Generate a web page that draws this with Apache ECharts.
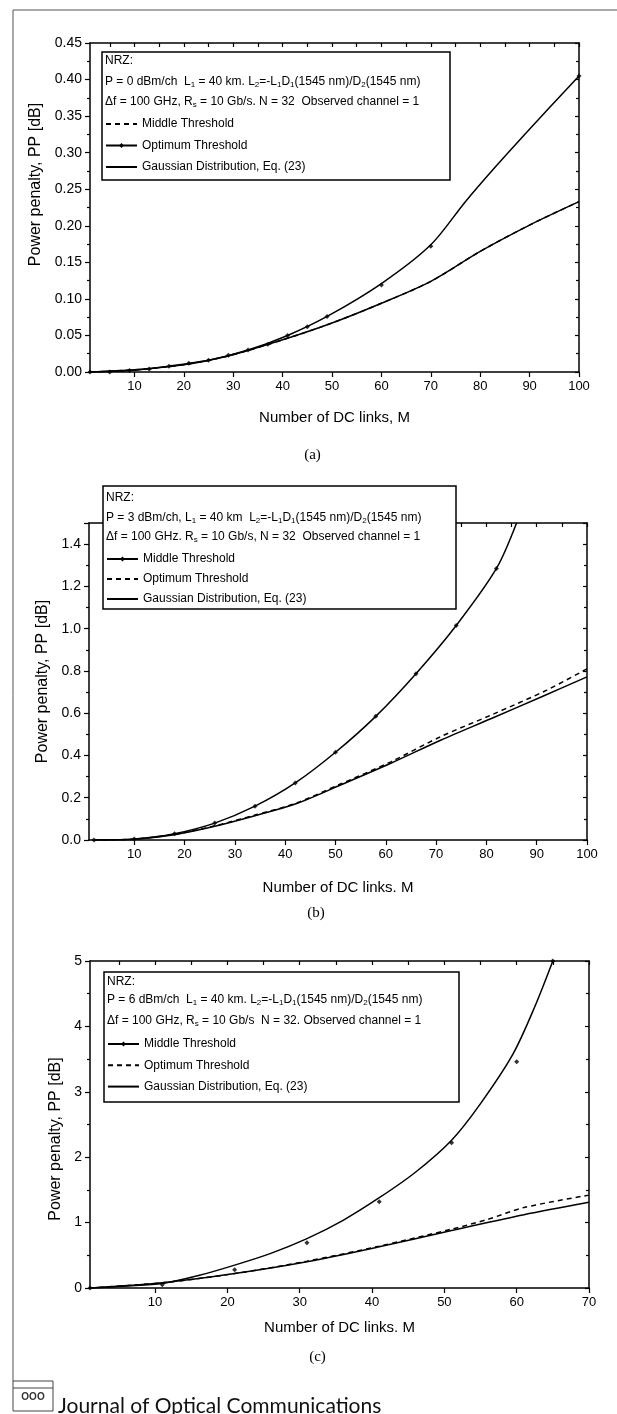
<!DOCTYPE html>
<html>
<head>
<meta charset="utf-8">
<script src="https://cdn.jsdelivr.net/npm/echarts@6/dist/echarts.min.js"></script>
<style>
html, body { margin: 0; padding: 0; background: #fff; }
#chart { width: 617px; height: 1414px; }
</style>
</head>
<body>
<div id="chart"></div>
<script>
// (a) P = 0 dBm/ch
var aOptX = [1, 9, 17, 25, 33, 41, 49, 60, 70, 77, 83, 89, 100];
var aOptY = [0, 0.002, 0.008, 0.016, 0.03, 0.05, 0.076, 0.121, 0.174, 0.233, 0.28, 0.325, 0.405];
var aMarkX = [1, 5, 9, 13, 17, 21, 25, 29, 33, 37, 41, 45, 49, 60, 70, 100];
var aMarkY = [0, 0, 0.002, 0.004, 0.008, 0.012, 0.016, 0.023, 0.03, 0.038, 0.05, 0.062, 0.076, 0.119, 0.172, 0.405];
var aGaussX = [1, 10, 20, 29, 40, 50, 60, 70, 80, 90, 100];
var aGaussY = [0, 0.003, 0.01, 0.022, 0.044, 0.067, 0.094, 0.124, 0.165, 0.201, 0.233];
// middle threshold curve in (a) is not visible, it lies under the gaussian one
var aMidX = aGaussX;
var aMidY = aGaussY;

// (b) P = 3 dBm/ch
var bMidX = [2, 10, 18, 26, 34, 42, 50, 58, 66, 74, 82, 86];
var bMidY = [0, 0.005, 0.03, 0.08, 0.16, 0.27, 0.415, 0.585, 0.787, 1.015, 1.285, 1.5];
var bMarkX = [2, 10, 18, 26, 34, 42, 50, 58, 66, 74, 82];
var bMarkY = [0, 0.005, 0.03, 0.08, 0.16, 0.27, 0.415, 0.585, 0.787, 1.015, 1.285];
var bOptX = [2, 10, 18, 26, 34, 42, 51, 61, 71, 81, 92, 100];
var bOptY = [0, 0.004, 0.027, 0.067, 0.118, 0.173, 0.265, 0.37, 0.49, 0.592, 0.709, 0.81];
var bGaussX = [2, 10, 18, 26, 34, 42, 51, 61, 71, 81, 91, 100];
var bGaussY = [0, 0.004, 0.025, 0.065, 0.115, 0.17, 0.26, 0.363, 0.473, 0.575, 0.678, 0.772];

// (c) P = 6 dBm/ch
var cMidX = [1, 6, 11, 16, 21, 26, 31, 36, 41, 46, 51, 55, 59.5, 62.5, 65];
var cMidY = [0, 0.03, 0.07, 0.19, 0.35, 0.53, 0.755, 1.035, 1.38, 1.77, 2.26, 2.82, 3.58, 4.3, 5.0];
var cMarkX = [1, 11, 21, 31, 41, 51, 60, 65];
var cMarkY = [0, 0.05, 0.28, 0.69, 1.32, 2.22, 3.46, 5.0];
var cOptX = [1, 11, 21, 31, 41, 51, 56, 61, 70];
var cOptY = [0, 0.08, 0.22, 0.41, 0.64, 0.9, 1.05, 1.23, 1.42];
var cGaussX = [1, 11, 21, 31, 41, 51, 61, 70];
var cGaussY = [0, 0.08, 0.22, 0.4, 0.63, 0.88, 1.12, 1.31];

var ticks100 = [10, 20, 30, 40, 50, 60, 70, 80, 90, 100];
var ticks70 = [10, 20, 30, 40, 50, 60, 70];
var minor100 = [5, 10, 15, 20, 25, 30, 35, 40, 45, 50, 55, 60, 65, 70, 75, 80, 85, 90, 95, 100];
var minor70 = [5, 10, 15, 20, 25, 30, 35, 40, 45, 50, 55, 60, 65, 70];

var MID = 'Middle Threshold', OPT = 'Optimum Threshold', GAU = 'Gaussian Distribution, Eq. (23)';
var FONT = 'Liberation Sans, Arial, sans-serif';

function pairs(xs, ys) {
    return xs.map(function (x, i) { return [x, ys[i]]; });
}

var panels = [
    {
        grid: { left: 90, top: 43, width: 489, height: 329 },
        xMax: 100, xTicks: ticks100, xMinor: minor100, xNameGap: 38,
        yMax: 0.45, yStep: 0.05, digits: 2, yNameGap: 44, yNamePad: [0, 0, 0, 46],
        suffix: '', tag: '(a)', tagY: 455,
        box: [102, 52, 348, 128], head: [61, 82, 102], legTop: 117, legGap: 7.5,
        p: 'P = 0 dBm/ch  L{s|1} = 40 km. L{s|2}=-L{s|1}D{s|1}(1545 nm)/D{s|2}(1545 nm)',
        df: '\u0394f = 100 GHz, R{s|s} = 10 Gb/s. N = 32  Observed channel = 1',
        order: [MID, OPT, GAU],
        series: [
            { name: MID, data: pairs(aMidX, aMidY), dashed: true, z: 2 },
            { name: OPT, data: pairs(aOptX, aOptY), mark: pairs(aMarkX, aMarkY), z: 3 },
            { name: GAU, data: pairs(aGaussX, aGaussY), z: 3 }
        ]
    },
    {
        grid: { left: 89, top: 523, width: 498, height: 317 },
        xMax: 100, xTicks: ticks100, xMinor: minor100, xNameGap: 40,
        yMax: 1.5, yStep: 0.2, digits: 1, yNameGap: 36, yNamePad: [0, 0, 0, 0],
        suffix: ' ', tag: '(b)', tagY: 913,
        box: [103, 486, 353, 123], head: [498, 518, 537], legTop: 552, legGap: 6,
        p: 'P = 3 dBm/ch, L{s|1} = 40 km  L{s|2}=-L{s|1}D{s|1}(1545 nm)/D{s|2}(1545 nm)',
        df: '\u0394f = 100 GHz. R{s|s} = 10 Gb/s, N = 32  Observed channel = 1',
        order: [MID, OPT, GAU],
        series: [
            { name: MID, data: pairs(bMidX, bMidY), mark: pairs(bMarkX, bMarkY), z: 3 },
            { name: OPT, data: pairs(bOptX, bOptY), dashed: true, z: 2 },
            { name: GAU, data: pairs(bGaussX, bGaussY), z: 3 }
        ]
    },
    {
        grid: { left: 90, top: 961, width: 499, height: 327 },
        xMax: 70, xTicks: ticks70, xMinor: minor70, xNameGap: 32,
        yMax: 5, yStep: 1, digits: 0, yNameGap: 22, yNamePad: [0, 29, 0, 0],
        suffix: '  ', tag: '(c)', tagY: 1357,
        box: [104, 972, 355, 130], head: [982, 1000, 1021], legTop: 1037, legGap: 7.3,
        p: 'P = 6 dBm/ch  L{s|1} = 40 km. L{s|2}=-L{s|1}D{s|1}(1545 nm)/D{s|2}(1545 nm)',
        df: '\u0394f = 100 GHz, R{s|s} = 10 Gb/s  N = 32. Observed channel = 1',
        order: [MID, OPT, GAU],
        series: [
            { name: MID, data: pairs(cMidX, cMidY), mark: pairs(cMarkX, cMarkY), z: 3 },
            { name: OPT, data: pairs(cOptX, cOptY), dashed: true, z: 2 },
            { name: GAU, data: pairs(cGaussX, cGaussY), z: 3 }
        ]
    }
];

var axisLine = { color: '#000', width: 1.5 };
var tickLine = { color: '#000', width: 1.2 };
var grid = [], xAxis = [], yAxis = [], series = [], legend = [], graphic = [];

panels.forEach(function (p, i) {
    grid.push(p.grid);
    xAxis.push({
        type: 'value', gridIndex: i, min: 1, max: p.xMax, position: 'bottom',
        axisLine: { onZero: false, lineStyle: axisLine },
        axisTick: { inside: false, length: 5, customValues: p.xTicks, lineStyle: tickLine },
        axisLabel: { customValues: p.xTicks, margin: 8, fontSize: 13, color: '#000', fontFamily: FONT },
        splitLine: { show: false },
        name: 'Number of DC links' + (i === 0 ? ', M' : '. M'), nameLocation: 'middle', nameGap: p.xNameGap,
        nameTextStyle: { fontSize: 15, color: '#000', fontFamily: FONT }
    });
    xAxis.push({
        type: 'value', gridIndex: i, min: 1, max: p.xMax, position: 'top',
        axisLine: { onZero: false, lineStyle: axisLine },
        axisTick: { inside: true, length: 4, customValues: p.xMinor, lineStyle: tickLine },
        axisLabel: { show: false }, splitLine: { show: false }
    });
    yAxis.push({
        type: 'value', gridIndex: i, min: 0, max: p.yMax, interval: p.yStep, position: 'left',
        axisLine: { show: true, onZero: false, lineStyle: axisLine },
        axisTick: { show: true, inside: false, length: 5, lineStyle: tickLine },
        minorTick: { show: true, splitNumber: 2, length: 3, lineStyle: tickLine },
        axisLabel: {
            margin: 8, fontSize: 14, color: '#000', fontFamily: FONT, showMaxLabel: i !== 1,
            formatter: (function (d) { return function (v) { return v.toFixed(d); }; })(p.digits)
        },
        splitLine: { show: false }, minorSplitLine: { show: false },
        name: 'Power penalty, PP [dB]', nameLocation: 'middle', nameGap: p.yNameGap, nameRotate: 90,
        nameTextStyle: { fontSize: 16, color: '#000', fontFamily: FONT, padding: p.yNamePad }
    });
    yAxis.push({
        type: 'value', gridIndex: i, min: 0, max: p.yMax, interval: p.yStep, position: 'right',
        axisLine: { show: true, onZero: false, lineStyle: axisLine },
        axisTick: { show: true, inside: true, length: 4, lineStyle: tickLine },
        minorTick: { show: true, splitNumber: 2, length: 3, lineStyle: tickLine },
        axisLabel: { show: false }, splitLine: { show: false }, minorSplitLine: { show: false }
    });

    p.series.forEach(function (s) {
        series.push({
            type: 'line', name: s.name + p.suffix,
            xAxisIndex: 2 * i, yAxisIndex: 2 * i,
            data: s.data, smooth: 0.3,
            symbol: s.mark ? 'diamond' : 'none', showSymbol: false,
            lineStyle: { color: '#000', width: 1.5, type: s.dashed ? [5, 4] : 'solid' },
            itemStyle: { color: '#000' }, z: s.z, clip: true
        });
        if (s.mark) {
            series.push({
                type: 'scatter', name: 'marks ' + i,
                xAxisIndex: 2 * i, yAxisIndex: 2 * i,
                data: s.mark, symbol: 'diamond', symbolSize: 5,
                itemStyle: { color: '#000' }, z: 4
            });
        }
    });

    var marked = {};
    p.series.forEach(function (s) { marked[s.name] = !!s.mark; });
    legend.push({
        data: p.order.map(function (n) {
            return marked[n] ? { name: n + p.suffix } : { name: n + p.suffix, itemStyle: { opacity: 0 } };
        }),
        left: p.box[0] + 3, top: p.legTop, orient: 'vertical', itemGap: p.legGap,
        itemWidth: 31, itemHeight: 6, padding: 0, selectedMode: false, z: 20,
        textStyle: { fontSize: 12, color: '#000', fontFamily: FONT, lineHeight: 14 },
        formatter: function (n) { return n.replace(/\s+$/, ''); }
    });

    var rich = { s: { fontSize: 8, lineHeight: 9, verticalAlign: 'bottom', fontFamily: FONT, fill: '#000' } };
    graphic.push({
        type: 'rect', z: 15,
        shape: { x: p.box[0], y: p.box[1], width: p.box[2], height: p.box[3] },
        style: { fill: '#fff', stroke: '#000', lineWidth: 1.5 }
    });
    [['NRZ:', 0], [p.p, 1], [p.df, 2]].forEach(function (t) {
        graphic.push({
            type: 'text', z: 21, x: p.box[0] + 3, y: p.head[t[1]],
            style: {
                text: t[0], fontSize: 12, fontFamily: FONT, fill: '#000',
                verticalAlign: 'middle', lineHeight: 14, rich: rich
            }
        });
    });
    graphic.push({
        type: 'text', z: 21, x: p.grid.left + p.grid.width / 2 - 22, y: p.tagY,
        style: {
            text: p.tag, fontSize: 15, fontFamily: 'Liberation Serif, Times New Roman, serif',
            fill: '#000', align: 'center', verticalAlign: 'middle'
        }
    });
});

// page frame and journal footer
graphic.push({ type: 'line', shape: { x1: 13, y1: 10, x2: 617, y2: 10 }, style: { stroke: '#555', lineWidth: 1 } });
graphic.push({ type: 'line', shape: { x1: 13, y1: 10, x2: 13, y2: 1381 }, style: { stroke: '#555', lineWidth: 1 } });
graphic.push({ type: 'rect', shape: { x: 13, y: 1381, width: 40, height: 30 }, style: { fill: '#fff', stroke: '#444', lineWidth: 1 } });
graphic.push({ type: 'line', shape: { x1: 13, y1: 1388, x2: 53, y2: 1388 }, style: { stroke: '#444', lineWidth: 1 } });
graphic.push({
    type: 'text', x: 33, y: 1397,
    style: { text: 'OOO', fontSize: 10, fontWeight: 'bold', fontFamily: FONT, fill: '#333', align: 'center', verticalAlign: 'middle' }
});
graphic.push({
    type: 'text', x: 58, y: 1396,
    style: { text: 'Journal of Optical Communications', fontSize: 21, fontFamily: 'Lato, Open Sans, sans-serif', fill: '#111' }
});

var chart = echarts.init(document.getElementById('chart'), null, { renderer: 'canvas' });
chart.setOption({
    animation: false,
    backgroundColor: '#fff',
    textStyle: { fontFamily: FONT },
    grid: grid,
    xAxis: xAxis,
    yAxis: yAxis,
    legend: legend,
    series: series,
    graphic: graphic
});
</script>
</body>
</html>
